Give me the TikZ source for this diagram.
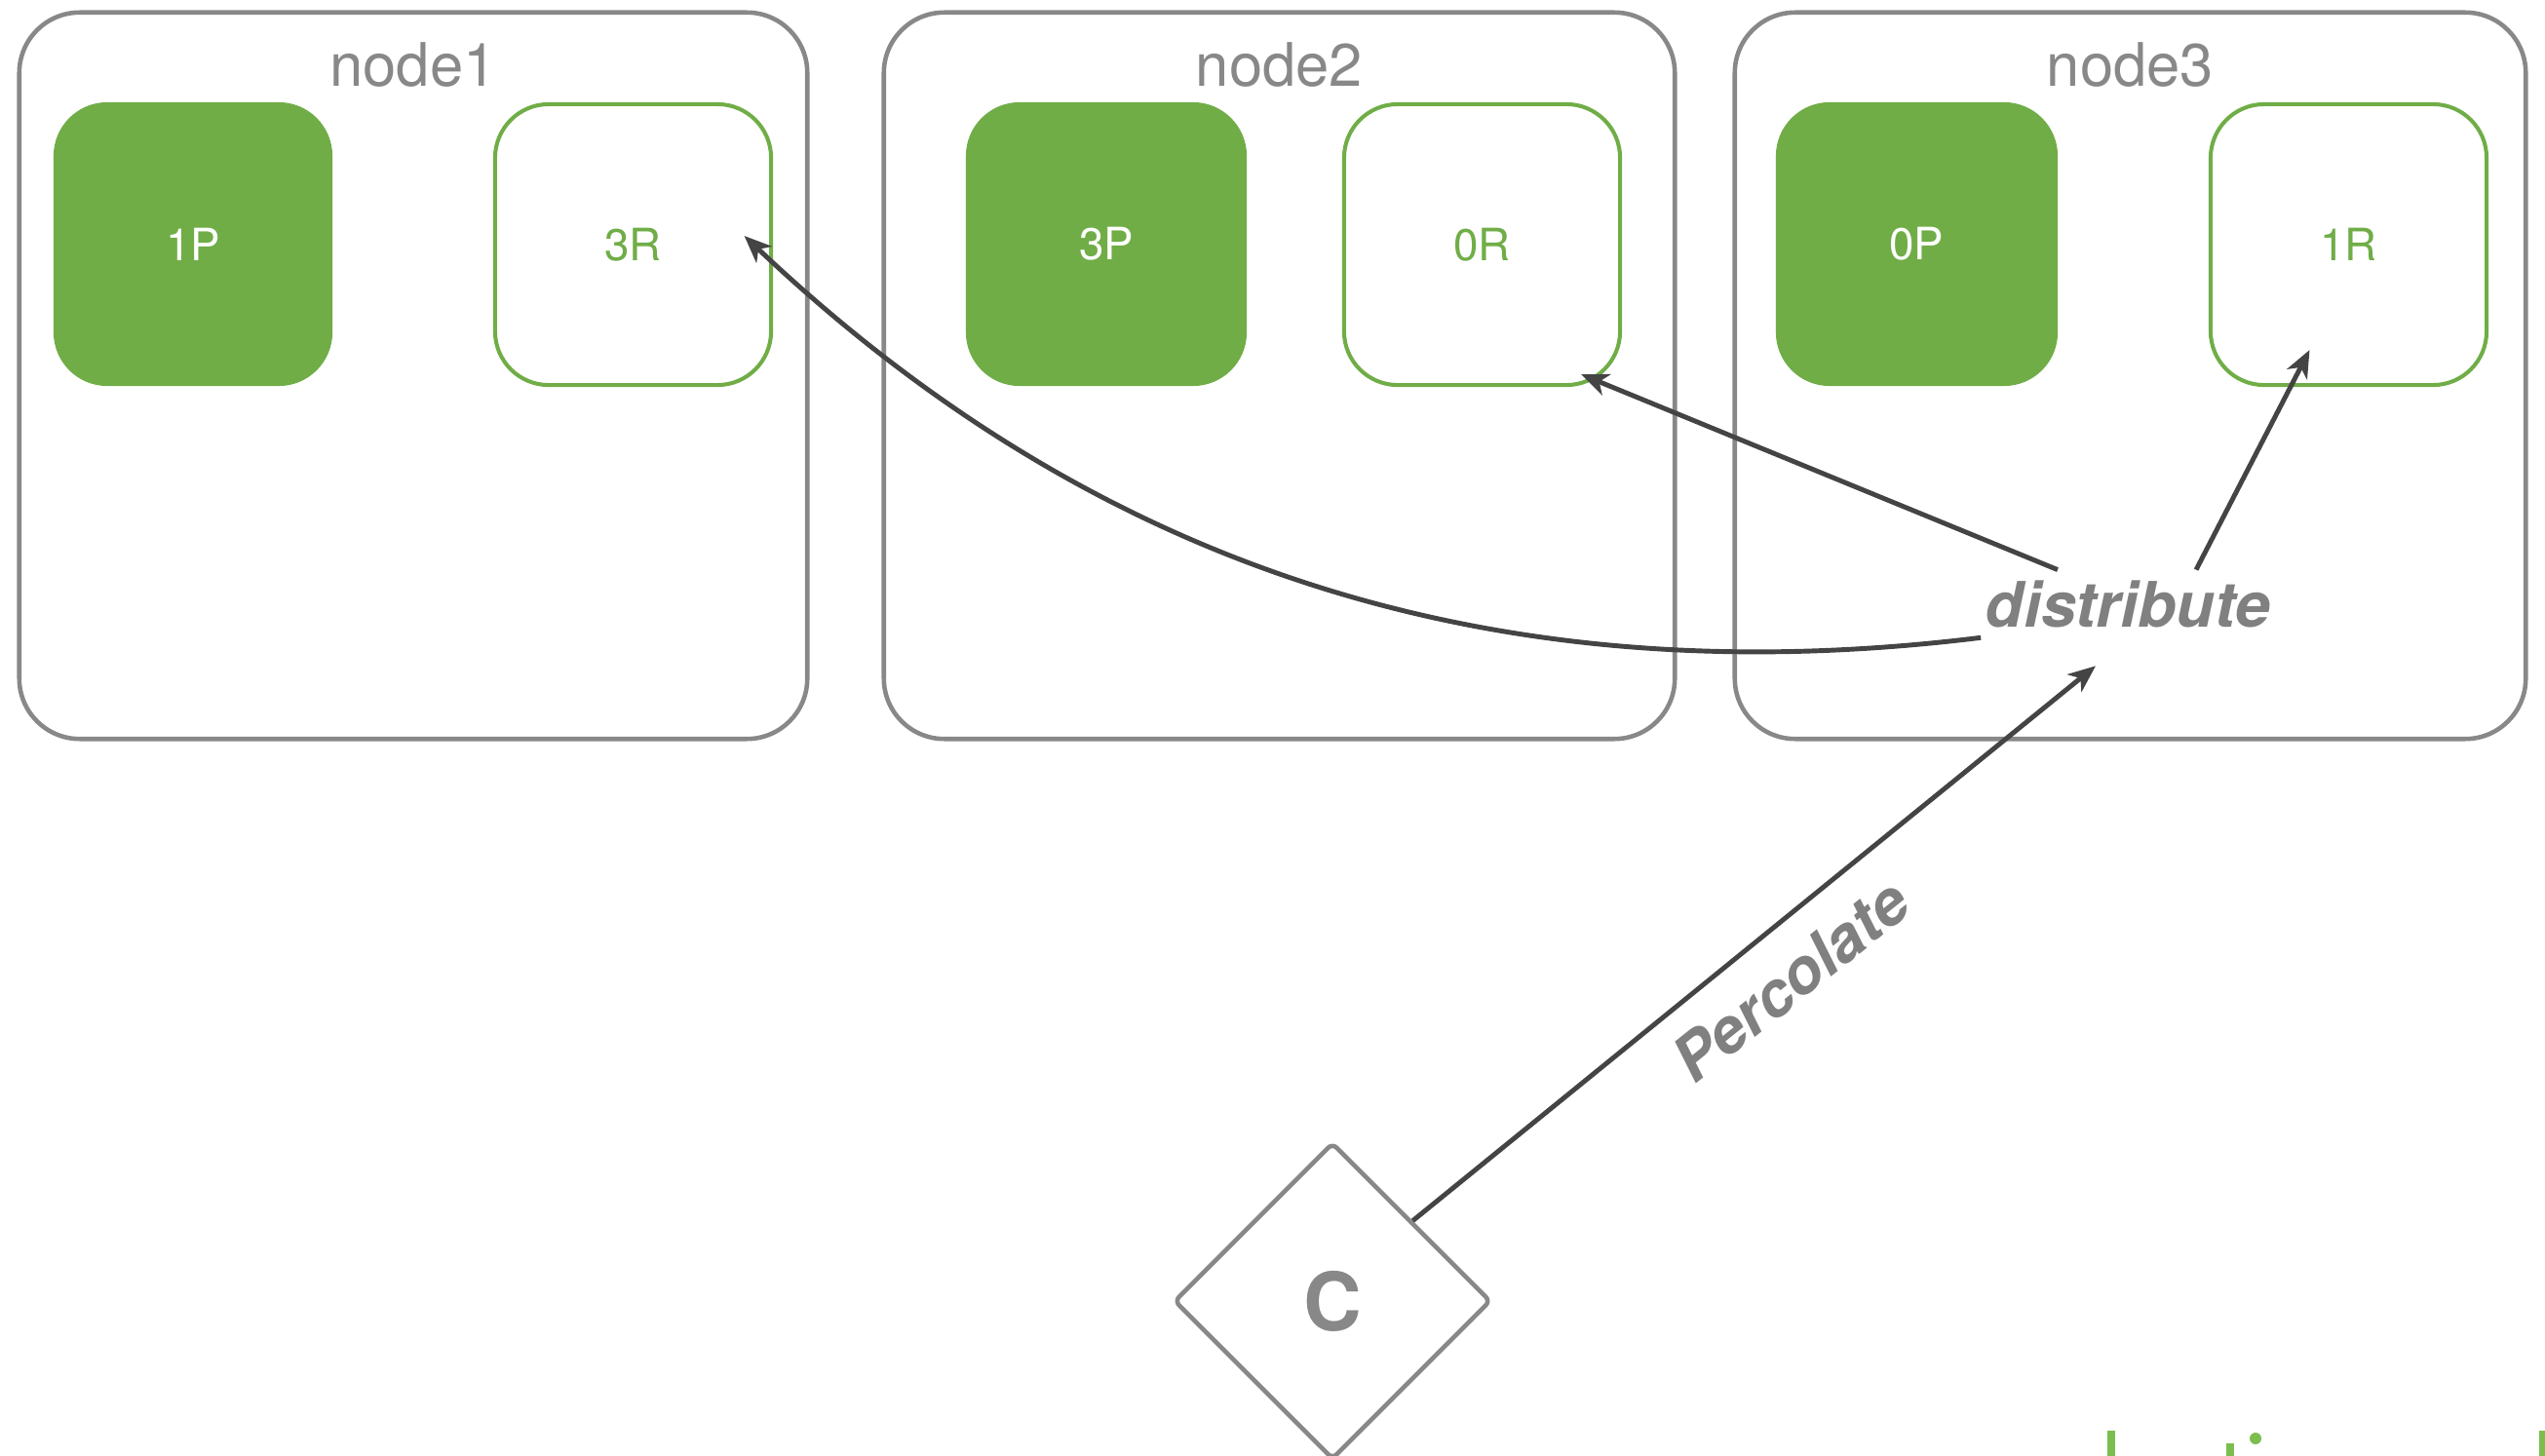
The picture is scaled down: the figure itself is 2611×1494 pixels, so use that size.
\documentclass[tikz,border=0pt]{standalone}
\usepackage{fontspec}
\setmainfont{TeX Gyre Heros}
\usetikzlibrary{arrows.meta,shapes.geometric}
\definecolor{boxgray}{HTML}{888888}
\definecolor{txtgray}{HTML}{808080}
\definecolor{pgreen}{HTML}{70AD47}
\definecolor{lgreen}{HTML}{7CBE4E}
\definecolor{arrowgray}{HTML}{444444}
\begin{document}
\begin{tikzpicture}[x=0.01cm, y=-0.01cm,
  outerbox/.style={draw=boxgray, line width=1.3pt, rounded corners=0.62cm,
    minimum width=#1, minimum height=7.45cm, inner sep=0},
  title/.style={anchor=base, text=boxgray, font=\fontsize{17.5}{20}\selectfont},
  prim/.style={fill=pgreen, rounded corners=0.55cm, minimum width=#1,
    minimum height=2.91cm, inner sep=0, text=white, font=\fontsize{13}{15}\selectfont},
  repl/.style={draw=pgreen, line width=1.15pt, fill=white, rounded corners=0.55cm,
    minimum width=2.83cm, minimum height=2.88cm, inner sep=0, text=pgreen,
    font=\fontsize{13}{15}\selectfont},
  lbl/.style={text=txtgray, font=\fontsize{18.3}{20}\selectfont\bfseries\itshape},
  conn/.style={draw=arrowgray, line width=1.4pt,
    -{Stealth[length=0.28cm, width=0.23cm, inset=0.08cm]}},
  frag/.style={fill=lgreen, draw=none}
]
\useasboundingbox (0,0) rectangle (2611,1494);

% cluster nodes
\node[outerbox=8.08cm] (n1) at (424,385.5) {};
\node[outerbox=8.11cm] (n2) at (1312.5,385.5) {};
\node[outerbox=8.11cm] (n3) at (2185.5,385.5) {};
\node[title] (t1) at (424,89) {node1};
\node[title] (t2) at (1312.5,89) {node2};
\node[title] (t3) at (2185.5,89) {node3};

% shards
\node[prim=2.86cm] (p1) at (198,250.5) {1P};
\node[repl] (r3) at (649.5,251) {3R};
\node[prim=2.88cm] (p3) at (1135,250.5) {3P};
\node[repl] (r0) at (1520.5,251) {0R};
\node[prim=2.89cm] (p0) at (1966.5,250.5) {0P};
\node[repl] (r1) at (2409.5,251) {1R};

% coordinating node
\node[diamond, draw=boxgray, line width=1.3pt, rounded corners=0.06cm,
  minimum width=3.25cm, minimum height=3.25cm, inner sep=0,
  text=boxgray, font=\fontsize{23.5}{26}\selectfont\bfseries] (c) at (1367,1335) {C};

% labels
\node[lbl, anchor=base, inner sep=0.1cm] (dist) at (2183,643) {distribute};
\node[lbl, rotate=38.6] (perc) at (1837,1006) {Percolate};

% connectors
\draw[conn] (c.north east) -- ([xshift=-0.33cm, yshift=-0.29cm]dist.south);
\draw[conn] ([xshift=-0.72cm]dist.north) -- ([xshift=-0.42cm, yshift=0.13cm]r0.south east);
\draw[conn] ([xshift=0.7cm]dist.north) -- ([xshift=-0.4cm, yshift=0.38cm]r1.south);
\draw[conn] ([xshift=0.06cm]dist.south west) .. controls (1500,720) and (1100,560) .. ([xshift=1.14cm, yshift=0.09cm]r3.center);

% cut-off green fragments at the bottom edge
\fill[frag] (2162,1468) rectangle (2170,1494);
\fill[frag] (2284,1481) rectangle (2292,1494);
\fill[frag] (2314,1476) circle (0.06cm);
\fill[frag] (2605,1468) rectangle (2611,1494);
\end{tikzpicture}
\end{document}
